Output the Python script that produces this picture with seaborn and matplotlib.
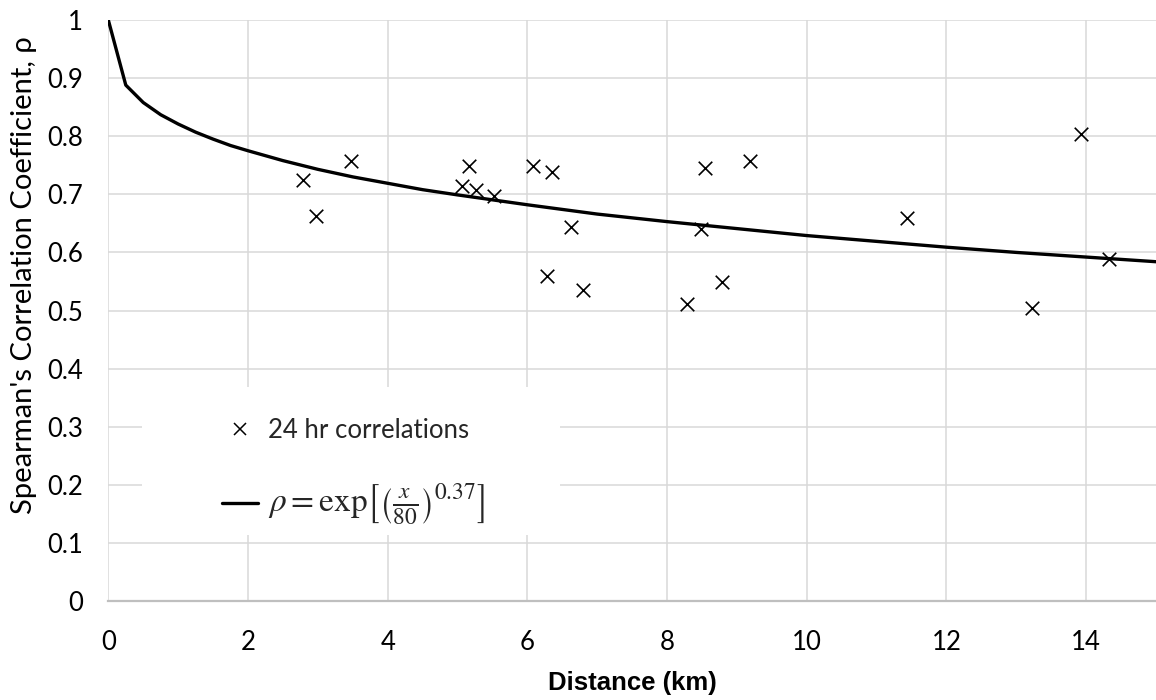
import matplotlib
matplotlib.use("Agg")
import matplotlib.pyplot as plt
from matplotlib.lines import Line2D
from matplotlib.patches import Rectangle
import seaborn as sns
import pandas as pd

# 24 hr station-pair correlations
distance_km = [2.79, 2.97, 3.48, 5.07, 5.17, 5.26, 5.52, 6.08, 6.28, 6.35, 6.63,
               6.79, 8.28, 8.48, 8.55, 8.79, 9.19, 11.43, 13.23, 13.92, 14.32]
spearman_rho = [0.725, 0.663, 0.757, 0.715, 0.749, 0.707, 0.697, 0.749, 0.560, 0.739, 0.644,
                0.535, 0.512, 0.640, 0.746, 0.549, 0.757, 0.659, 0.505, 0.803, 0.589]

# fitted decay curve
fit_x = [0, 0.25, 0.5, 0.75, 1, 1.25, 1.5, 1.75, 2, 2.5, 3, 3.5, 4, 4.5, 5,
         6, 7, 8, 9, 10, 11, 12, 13, 14, 15]
fit_rho = [1.0, 0.888, 0.858, 0.837, 0.821, 0.807, 0.795, 0.784, 0.775, 0.758, 0.743,
           0.730, 0.719, 0.708, 0.699, 0.682, 0.666, 0.653, 0.641, 0.629, 0.619,
           0.609, 0.600, 0.592, 0.584]

x_ticks = [0, 2, 4, 6, 8, 10, 12, 14]
y_ticks = [0, 0.1, 0.2, 0.3, 0.4, 0.5, 0.6, 0.7, 0.8, 0.9, 1]
y_tick_labels = ["0", "0.1", "0.2", "0.3", "0.4", "0.5", "0.6", "0.7", "0.8", "0.9", "1"]

points = pd.DataFrame({"distance": distance_km, "rho": spearman_rho})
curve = pd.DataFrame({"distance": fit_x, "rho": fit_rho})

sns.set_theme(style="whitegrid")
plt.rcParams["font.family"] = ["Lato", "DejaVu Sans"]
plt.rcParams["mathtext.fontset"] = "stix"

fig = plt.figure(figsize=(11.56, 7.0), dpi=100)
ax = fig.add_axes([0.0937, 0.1414, 0.9063, 0.83])

sns.lineplot(data=curve, x="distance", y="rho", ax=ax, color="black",
             linewidth=2.4, zorder=3, legend=False)
sns.scatterplot(data=points, x="distance", y="rho", ax=ax, marker="x",
                color="black", s=95, linewidth=1.2, zorder=4, legend=False)

ax.set_xlim(0, 15)
ax.set_ylim(0, 1)
ax.set_xticks(x_ticks)
ax.set_xticklabels([str(t) for t in x_ticks])
ax.set_yticks(y_ticks)
ax.set_yticklabels(y_tick_labels)

ax.grid(True, color="#d9d9d9", linewidth=1.1)
ax.set_axisbelow(True)
ax.set_facecolor("white")
for side in ["left", "top", "right"]:
    ax.spines[side].set_visible(False)
ax.spines["bottom"].set_color("#bfbfbf")
ax.spines["bottom"].set_linewidth(1.6)

ax.tick_params(axis="x", length=0, pad=21, labelsize=18.5, labelcolor="black")
ax.tick_params(axis="y", length=0, pad=18, labelsize=18.5, labelcolor="black")

ax.set_xlabel("Distance (km)", family=["Liberation Sans", "DejaVu Sans"],
              fontweight="bold", fontsize=18.5, color="black")
ax.xaxis.set_label_coords(0.5, -0.121)
ax.set_ylabel("Spearman's Correlation Coefficient, \u03c1", fontsize=21,
              color="black")
ax.yaxis.set_label_coords(-0.068, 0.561)

# white legend panel that masks the grid behind it
ax.add_patch(Rectangle((0.032, 0.1136), 0.399, 0.2544, transform=ax.transAxes,
                       facecolor="white", edgecolor="none", zorder=1.5))

handles = [
    Line2D([], [], linestyle="none", marker="x", color="black",
           markersize=9, markeredgewidth=1.1),
    Line2D([], [], color="black", linewidth=2.4),
]
labels = ["24 hr correlations",
          r"$\rho = \mathrm{exp}\left[\left(\frac{x}{80}\right)^{0.37}\right]$"]
leg = ax.legend(handles, labels, loc="upper left", bbox_to_anchor=(0.1085, 0.315),
                frameon=False, fontsize=18.5, handlelength=1.4, handletextpad=0.4,
                labelspacing=1.5, borderpad=0, borderaxespad=0)
leg.set_zorder(5)
leg.get_texts()[1].set_fontsize(24)

fig.savefig("out.png", dpi=100, facecolor="white")
